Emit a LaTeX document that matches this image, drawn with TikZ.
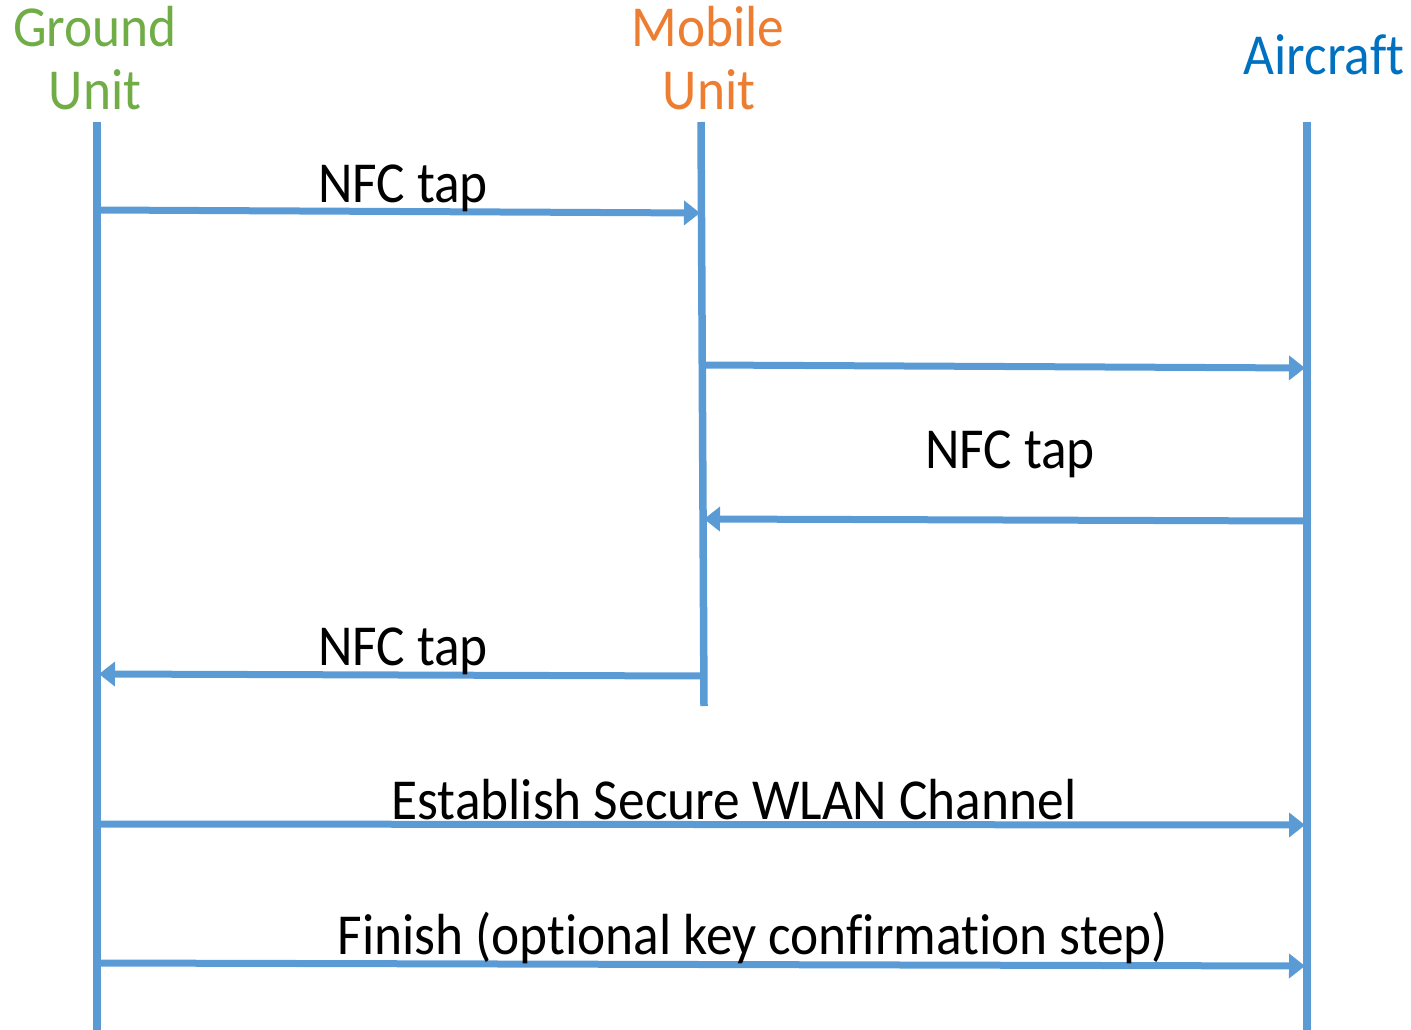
\documentclass[tikz,border=0pt]{standalone}
\usepackage{fontspec}
\setmainfont{Carlito}[FakeStretch=0.92, Ligatures=NoCommon]
\usetikzlibrary{arrows.meta}
\definecolor{lifeblue}{HTML}{5B9BD5}
\definecolor{groundgreen}{HTML}{70AD47}
\definecolor{mobileorange}{HTML}{ED7D31}
\definecolor{aircraftblue}{HTML}{0070C0}
\tikzset{
  lifeline/.style={draw=lifeblue, line width=7.5pt},
  msg/.style={draw=lifeblue, line width=7pt,
    -{Triangle[length=16pt,width=24pt]}, shorten >=1pt},
  msglabel/.style={anchor=base, inner sep=0pt, font=\fontsize{58}{60}\selectfont},
  header/.style={anchor=base, inner sep=0pt, font=\fontsize{58}{60}\selectfont},
}
\begin{document}
\begin{tikzpicture}[x=1pt, y=-1pt]
\useasboundingbox (0,0) rectangle (1411,1030);

% participants
\node[header, text=groundgreen] (gname1) at (95,47) {Ground};
\node[header, text=groundgreen] (gname2) at (95,110) {Unit};
\node[header, text=mobileorange] (mname1) at (708,47) {Mobile};
\node[header, text=mobileorange] (mname2) at (709,110) {Unit};
\node[header, text=aircraftblue] (aname) at (1324,75) {Aircraft};

% lifeline ends
\coordinate (gtop) at (97,122);
\coordinate (gbot) at (97,1030);
\coordinate (mtop) at (701,122);
\coordinate (mbot) at (704,706);
\coordinate (atop) at (1307,122);
\coordinate (abot) at (1307,1030);

\draw[lifeline] (gtop) -- (gbot);
\draw[lifeline] (mtop) -- (mbot);
\draw[lifeline] (atop) -- (abot);

% message end points on the lifelines
\coordinate (m1s) at (99,210);
\coordinate (m1e) at (701,213);
\coordinate (m2s) at (704,365);
\coordinate (m2e) at (1306,368);
\coordinate (m3s) at (1305,521);
\coordinate (m3e) at (703,519);
\coordinate (m4s) at (702,676);
\coordinate (m4e) at (98,674);
\coordinate (m5s) at (99,824);
\coordinate (m5e) at (1306,825);
\coordinate (m6s) at (99,963);
\coordinate (m6e) at (1306,966);

% messages
\draw[msg] (m1s) -- (m1e);
\draw[msg] (m2s) -- (m2e);
\draw[msg] (m3s) -- (m3e);
\draw[msg] (m4s) -- (m4e);
\draw[msg] (m5s) -- (m5e);
\draw[msg] (m6s) -- (m6e);

% message labels
\node[msglabel] (l1) at (403,202) {NFC tap};
\node[msglabel] (l3) at (1010,468) {NFC tap};
\node[msglabel] (l4) at (403,665) {NFC tap};
\node[msglabel] (l5) at (734,819) {Establish Secure WLAN Channel};
\node[msglabel] (l6) at (753,954) {Finish (optional key confirmation step)};
\end{tikzpicture}
\end{document}
